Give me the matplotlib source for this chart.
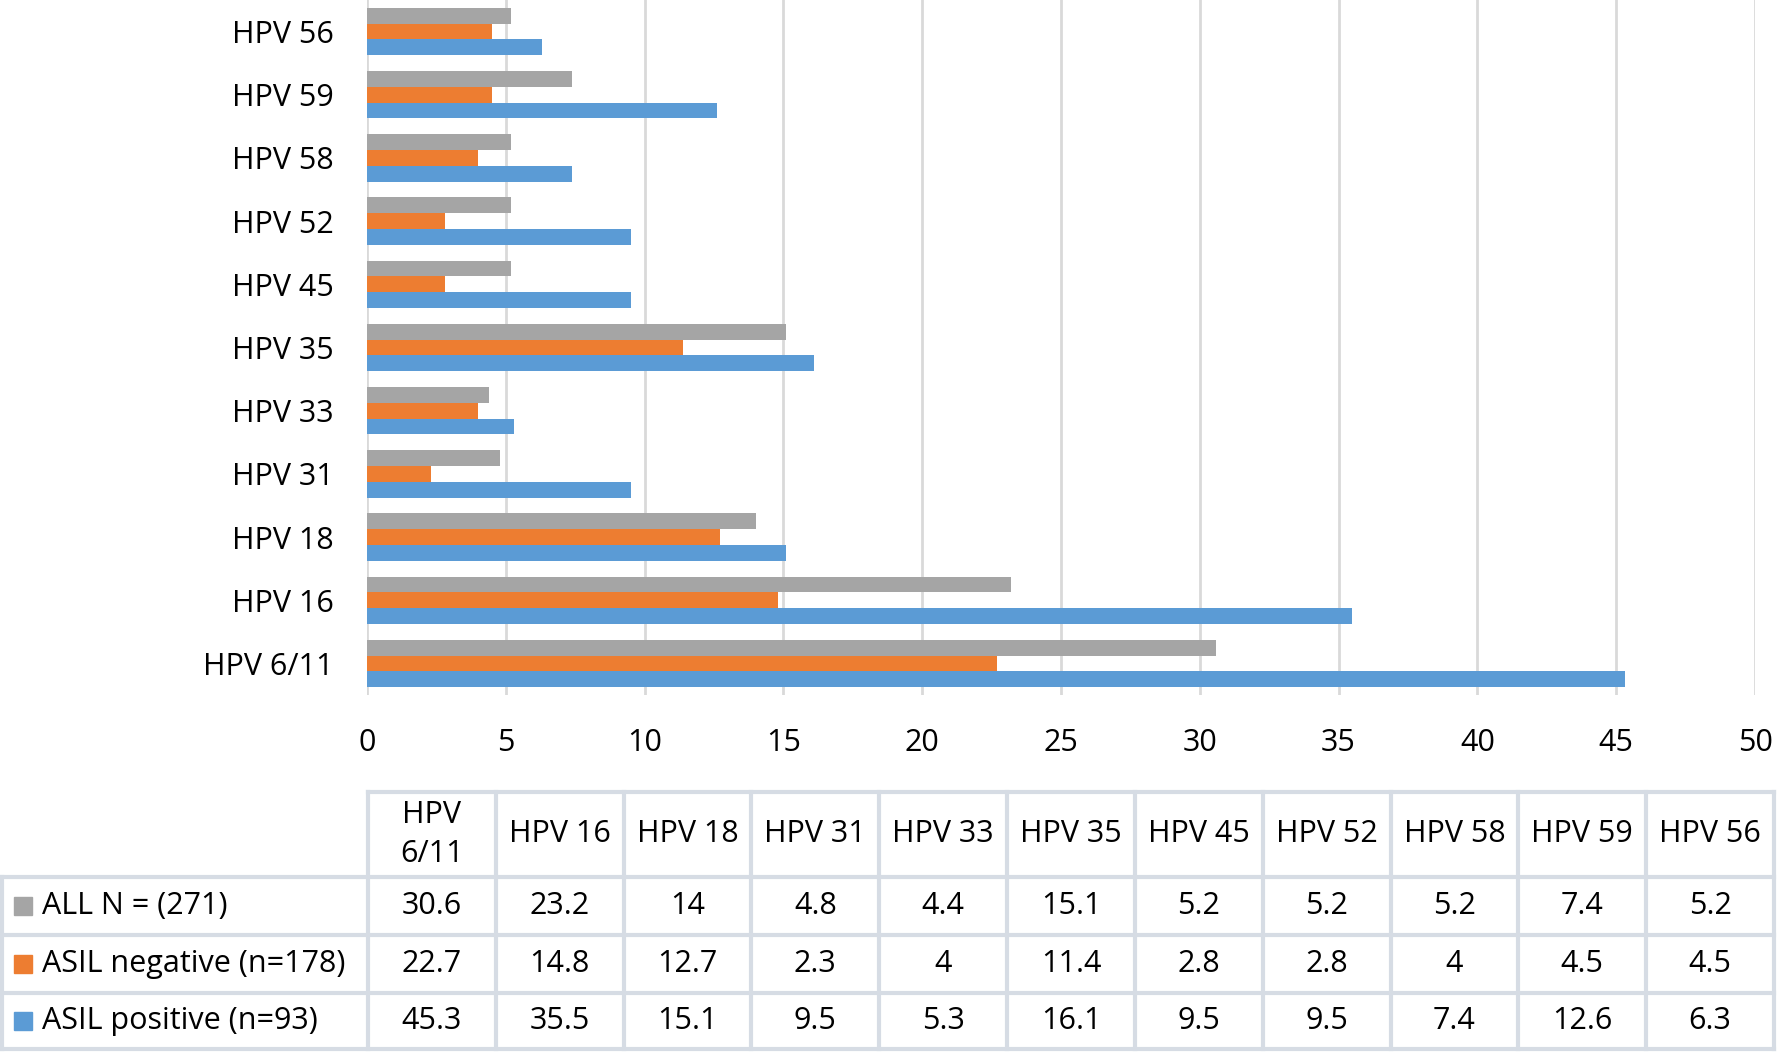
import matplotlib.pyplot as plt
import numpy as np

plt.rcParams['font.family'] = ['Open Sans', 'DejaVu Sans']

hpv_types = ['HPV 6/11', 'HPV 16', 'HPV 18', 'HPV 31', 'HPV 33', 'HPV 35',
             'HPV 45', 'HPV 52', 'HPV 58', 'HPV 59', 'HPV 56']
header_labels = ['HPV\n6/11', 'HPV 16', 'HPV 18', 'HPV 31', 'HPV 33', 'HPV 35',
                 'HPV 45', 'HPV 52', 'HPV 58', 'HPV 59', 'HPV 56']
all_n = [30.6, 23.2, 14, 4.8, 4.4, 15.1, 5.2, 5.2, 5.2, 7.4, 5.2]
asil_neg = [22.7, 14.8, 12.7, 2.3, 4, 11.4, 2.8, 2.8, 4, 4.5, 4.5]
asil_pos = [45.3, 35.5, 15.1, 9.5, 5.3, 16.1, 9.5, 9.5, 7.4, 12.6, 6.3]
series_names = ['ALL N = (271)', 'ASIL negative (n=178)', 'ASIL positive (n=93)']
series_colors = ['#A5A5A5', '#ED7D31', '#5B9BD5']
x_ticks = [0, 5, 10, 15, 20, 25, 30, 35, 40, 45, 50]

W, H = 1777, 1052
fs = 22
fig = plt.figure(figsize=(W / 100, H / 100), dpi=100)

# main bar chart
ax = fig.add_axes([367 / W, 1 - 695 / H, (1755 - 367) / W, 695 / H])
y = np.arange(len(hpv_types))
bh = 0.25
ax.barh(y + bh, all_n, height=bh, color=series_colors[0], zorder=3)
ax.barh(y, asil_neg, height=bh, color=series_colors[1], zorder=3)
ax.barh(y - bh, asil_pos, height=bh, color=series_colors[2], zorder=3)
ax.set_xlim(0, 50)
ax.set_ylim(-0.5, 10.5)
ax.set_xticks(x_ticks)
ax.set_yticks(y)
ax.set_yticklabels(hpv_types)
ax.tick_params(axis='both', length=0, labelsize=fs, colors='black')
ax.tick_params(axis='x', pad=24)
ax.tick_params(axis='y', pad=24)
ax.grid(axis='x', color='#D9D9D9', linewidth=2, zorder=0)
for s in ax.spines.values():
    s.set_visible(False)

# data table underneath
tab = fig.add_axes([0, 0, 1, 1])
tab.set_xlim(0, W)
tab.set_ylim(H, 0)
tab.axis('off')

border = '#D6DCE4'
lw = 3
left, col0, right = 2, 368, 1774
col_w = (right - col0) / len(hpv_types)
row_y = [792, 877, 935, 993, 1049]

# header row box (data columns only)
tab.plot([col0, right], [row_y[0], row_y[0]], color=border, lw=lw)
for yy in row_y[1:]:
    tab.plot([left, right], [yy, yy], color=border, lw=lw)
for i in range(len(hpv_types) + 1):
    xx = col0 + i * col_w
    tab.plot([xx, xx], [row_y[0], row_y[-1]], color=border, lw=lw)
tab.plot([left, left], [row_y[1], row_y[-1]], color=border, lw=lw)

for i, lab in enumerate(header_labels):
    tab.text(col0 + (i + 0.5) * col_w, (row_y[0] + row_y[1]) / 2, lab,
             ha='center', va='center', fontsize=fs, linespacing=1.4)

rows = [all_n, asil_neg, asil_pos]
for r, vals in enumerate(rows):
    yc = (row_y[r + 1] + row_y[r + 2]) / 2
    tab.add_patch(plt.Rectangle((14, yc - 9), 18, 18, color=series_colors[r]))
    tab.text(42, yc, series_names[r], ha='left', va='center', fontsize=fs)
    for i, v in enumerate(vals):
        tab.text(col0 + (i + 0.5) * col_w, yc, f'{v:g}',
                 ha='center', va='center', fontsize=fs)

fig.savefig('out.png', dpi=100)
